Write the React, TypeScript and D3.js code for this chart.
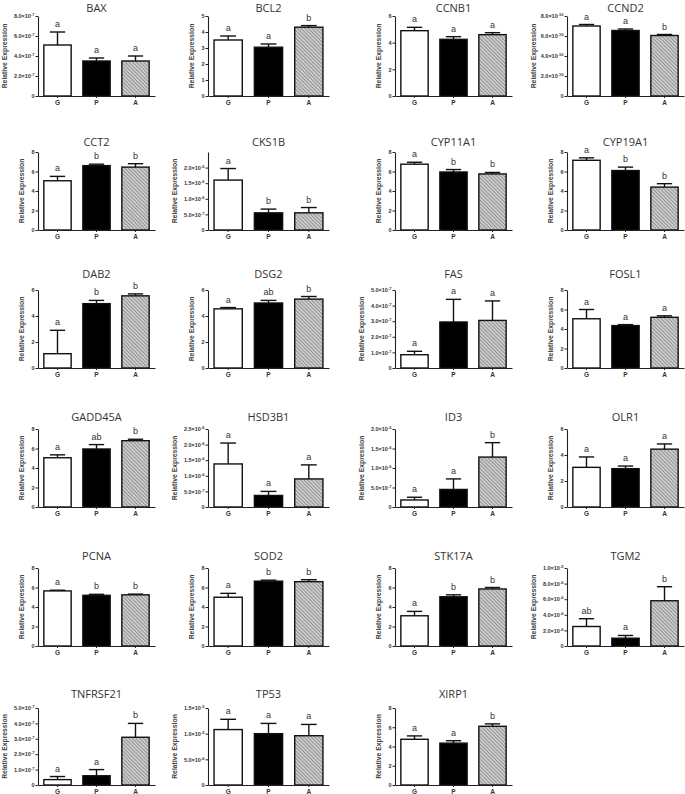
import React, { useEffect, useRef } from 'react'
import * as d3 from 'd3'

// genes, one small panel each (4 per row)
const genes = ['BAX', 'BCL2', 'CCNB1', 'CCND2', 'CCT2', 'CKS1B', 'CYP11A1', 'CYP19A1',
  'DAB2', 'DSG2', 'FAS', 'FOSL1', 'GADD45A', 'HSD3B1', 'ID3', 'OLR1',
  'PCNA', 'SOD2', 'STK17A', 'TGM2', 'TNFRSF21', 'TP53', 'XIRP1']
const groups = ['G', 'P', 'A']

const yMax = [8e-7, 5, 6, 8e-10, 8, 2.5e-6, 8, 8, 6, 6, 5e-7, 8, 8, 2.5e-6, 2e-6, 6, 8, 8, 8, 1e-5, 5e-7, 1.5e-5, 8]
const tickTop = [8e-7, 5, 6, 8e-10, 8, 2e-6, 8, 8, 6, 6, 5e-7, 8, 8, 2.5e-6, 2e-6, 6, 8, 8, 8, 1e-5, 5e-7, 1.5e-5, 8]
const tickStep = [2e-7, 1, 2, 2e-10, 2, 5e-7, 2, 2, 2, 2, 1e-7, 2, 2, 5e-7, 5e-7, 2, 2, 2, 2, 2e-6, 1e-7, 5e-6, 2]

const meanG = [5.1e-7, 3.5, 4.9, 7.0e-10, 5.05, 1.6e-6, 6.75, 7.15, 1.1, 4.55, 0.85e-7, 5.05, 5.05, 1.38e-6, 0.18e-6, 3.05, 5.65, 5.0, 3.1, 2.5e-6, 0.35e-7, 1.08e-5, 4.75]
const errG = [1.3e-7, 0.25, 0.25, 0.15e-10, 0.45, 0.37e-6, 0.2, 0.25, 1.8, 0.1, 0.22e-7, 0.95, 0.3, 0.67e-6, 0.07e-6, 0.8, 0.07, 0.4, 0.45, 1.0e-6, 0.2e-7, 0.2e-5, 0.35]
const meanP = [3.5e-7, 3.05, 4.25, 6.55e-10, 6.6, 0.55e-6, 5.95, 6.1, 4.95, 5.0, 2.95e-7, 4.35, 5.95, 0.37e-6, 0.45e-6, 2.95, 5.2, 6.65, 5.05, 1.0e-6, 0.6e-7, 1.0e-5, 4.35]
const errP = [0.3e-7, 0.2, 0.2, 0.15e-10, 0.15, 0.12e-6, 0.25, 0.35, 0.25, 0.2, 1.45e-7, 0.1, 0.45, 0.13e-6, 0.27e-6, 0.2, 0.1, 0.1, 0.2, 0.35e-6, 0.4e-7, 0.2e-5, 0.25]
const meanA = [3.5e-7, 4.3, 4.6, 6.05e-10, 6.45, 0.55e-6, 5.75, 4.4, 5.55, 5.3, 3.05e-7, 5.2, 6.8, 0.9e-6, 1.28e-6, 4.45, 5.25, 6.6, 5.85, 5.8e-6, 3.1e-7, 0.96e-5, 6.1]
const errA = [0.5e-7, 0.1, 0.15, 0.1e-10, 0.35, 0.17e-6, 0.15, 0.35, 0.15, 0.2, 1.25e-7, 0.15, 0.15, 0.45e-6, 0.37e-6, 0.4, 0.07, 0.2, 0.15, 1.8e-6, 0.9e-7, 0.22e-5, 0.25]

const lettersG = ['a', 'a', 'a', 'a', 'a', 'a', 'a', 'a', 'a', 'a', 'a', 'a', 'a', 'a', 'a', 'a', 'a', 'a', 'a', 'ab', 'a', 'a', 'a']
const lettersP = ['a', 'a', 'a', 'a', 'b', 'b', 'b', 'b', 'b', 'ab', 'a', 'a', 'ab', 'a', 'a', 'a', 'b', 'b', 'b', 'a', 'a', 'a', 'a']
const lettersA = ['a', 'b', 'a', 'b', 'b', 'b', 'b', 'b', 'b', 'b', 'a', 'a', 'b', 'a', 'b', 'a', 'b', 'b', 'b', 'b', 'b', 'a', 'b']

// layout
const axisX = [38, 208, 395, 567]
const plotW = [117, 121, 117, 117]
const rowTitle = [8, 142, 274, 417, 556, 694]
const rowTop = [16, 152, 290, 429, 568, 708]
const rowBase = [96, 230, 368, 507, 646, 785]

function sci(v) {
  const e = Math.floor(Math.log10(v) + 1e-9)
  const m = v / Math.pow(10, e)
  return [m.toFixed(1) + '×10', '-' + Math.abs(e)]
}

export default function App() {
  const ref = useRef(null)

  useEffect(() => {
    document.body.style.margin = '0'
    const svg = d3.select(ref.current)
    svg.selectAll('*').remove()

    const defs = svg.append('defs')
    const pat = defs.append('pattern').attr('id', 'hatch')
      .attr('patternUnits', 'userSpaceOnUse').attr('width', 2.6).attr('height', 2.6)
      .attr('patternTransform', 'rotate(-45)')
    pat.append('rect').attr('width', 2.6).attr('height', 2.6).attr('fill', '#cbcbcb')
    pat.append('line').attr('x1', 0).attr('y1', 0).attr('x2', 0).attr('y2', 2.6)
      .attr('stroke', '#6e6e6e').attr('stroke-width', 1.1)

    const fills = { G: '#fff', P: '#000', A: 'url(#hatch)' }

    genes.forEach((gene, i) => {
      const row = Math.floor(i / 4), col = i % 4
      const x0 = axisX[col], w = plotW[col]
      const isSci = yMax[i] < 1
      const y = d3.scaleLinear().domain([0, yMax[i]]).range([rowBase[row], rowTop[row]])
      const x = d3.scaleBand().domain(groups).range([x0, x0 + w]).paddingInner(0.3).paddingOuter(0.15)
      const g = svg.append('g')

      const data = [
        { k: 'G', m: meanG[i], e: errG[i], l: lettersG[i] },
        { k: 'P', m: meanP[i], e: errP[i], l: lettersP[i] },
        { k: 'A', m: meanA[i], e: errA[i], l: lettersA[i] },
      ]

      // title
      g.append('text').attr('x', x0 + w / 2).attr('y', rowTitle[row] + 4)
        .attr('text-anchor', 'middle').attr('font-family', 'Open Sans, sans-serif')
        .attr('font-size', 11).attr('fill', '#333').text(gene)

      // bars
      const bw = x.bandwidth()
      g.selectAll('.bar').data(data).enter().append('rect')
        .attr('x', d => x(d.k)).attr('y', d => y(d.m))
        .attr('width', bw).attr('height', d => y(0) - y(d.m))
        .attr('fill', d => fills[d.k]).attr('stroke', '#111').attr('stroke-width', 1.4)

      // error bars (upper only)
      const eb = g.selectAll('.eb').data(data).enter().append('g')
      eb.append('line')
        .attr('x1', d => x(d.k) + bw / 2).attr('x2', d => x(d.k) + bw / 2)
        .attr('y1', d => y(d.m)).attr('y2', d => y(d.m + d.e))
        .attr('stroke', '#111').attr('stroke-width', 1.4)
      eb.append('line')
        .attr('x1', d => x(d.k) + bw * 0.22).attr('x2', d => x(d.k) + bw * 0.78)
        .attr('y1', d => y(d.m + d.e)).attr('y2', d => y(d.m + d.e))
        .attr('stroke', '#111').attr('stroke-width', 1.4)
      eb.append('text')
        .attr('x', d => x(d.k) + bw / 2).attr('y', d => y(d.m + d.e) - 5)
        .attr('text-anchor', 'middle').attr('font-family', 'Liberation Sans, Arial, sans-serif')
        .attr('font-size', 9).attr('fill', '#333').text(d => d.l)

      // y axis
      const ticks = d3.range(0, tickTop[i] + tickStep[i] / 2, tickStep[i])
      const ya = g.append('g').attr('transform', `translate(${x0},0)`)
        .call(d3.axisLeft(y).tickValues(ticks).tickSize(2.5).tickSizeOuter(0))
      ya.select('.domain').attr('stroke', '#222').attr('stroke-width', 1.1)
      ya.selectAll('.tick line').attr('stroke', '#222').attr('stroke-width', 1)
      ya.selectAll('.tick text')
        .attr('font-family', 'Liberation Sans, Arial, sans-serif').attr('font-weight', 'bold')
        .attr('font-size', 5.5).attr('fill', '#333').attr('x', -3.5)
        .each(function (v) {
          const t = d3.select(this)
          t.text(null)
          if (!isSci || v === 0) { t.text(isSci ? '0' : d3.format('d')(v)); return }
          const [a, b] = sci(v)
          t.append('tspan').text(a)
          t.append('tspan').attr('dy', -2).attr('font-size', 4).text(b)
        })

      // x axis
      const xa = g.append('g').attr('transform', `translate(0,${rowBase[row]})`)
        .call(d3.axisBottom(x).tickSize(2).tickSizeOuter(0))
      xa.select('.domain').attr('stroke', '#222').attr('stroke-width', 1.1)
      xa.selectAll('.tick line').attr('stroke', '#222')
      xa.selectAll('.tick text')
        .attr('font-family', 'Liberation Sans, Arial, sans-serif').attr('font-weight', 'bold')
        .attr('font-size', 6.5).attr('fill', '#333').attr('y', 4)

      // y label
      const lx = x0 - (isSci ? 31 : 14)
      const ly = (rowTop[row] + rowBase[row]) / 2
      g.append('text').attr('transform', `translate(${lx},${ly}) rotate(-90)`)
        .attr('text-anchor', 'middle').attr('font-family', 'Liberation Sans, Arial, sans-serif')
        .attr('font-weight', 'bold').attr('font-size', 6.8).attr('fill', '#444')
        .text('Relative Expression')
    })
  }, [])

  return (
    <svg ref={ref} width={685} height={794}
      style={{ position: 'absolute', left: 0, top: 0, background: '#fff' }} />
  )
}
